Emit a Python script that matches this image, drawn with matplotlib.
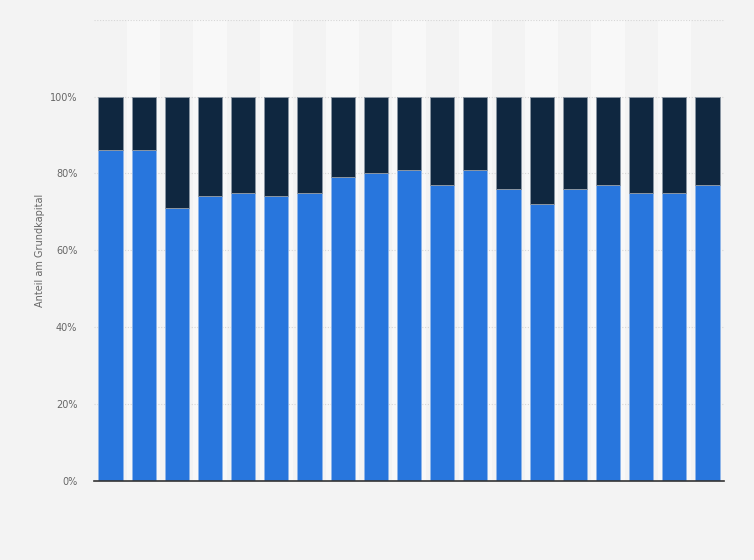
import matplotlib
matplotlib.use("Agg")
import matplotlib.pyplot as plt
import numpy as np

# share of the first group (blue), the rest (dark) fills up to 100 %
blue_share = [86, 86, 71, 74, 75, 74, 75, 79, 80, 81, 77, 81, 76, 72, 76, 77, 75, 75, 77]
dark_share = [100 - v for v in blue_share]
y_ticks = [0, 20, 40, 60, 80, 100]
y_labels = ["0%", "20%", "40%", "60%", "80%", "100%"]

BG = "#f3f3f3"
BAND = "#f8f8f8"
BLUE = "#2876dd"
DARK = "#0f2740"

fig = plt.figure(figsize=(7.54, 5.6), dpi=100, facecolor=BG)
ax = fig.add_axes([0.1247, 0.141, 0.8355, 0.824])
ax.set_facecolor(BG)

x = np.arange(len(blue_share))
# alternating column bands
for i in x:
    if i % 2 == 1:
        ax.axvspan(i - 0.5, i + 0.5, color=BAND, zorder=0, lw=0)

for yv in y_ticks[1:] + [120]:
    ax.axhline(yv, color="#d6d6d6", lw=0.8, ls=(0, (1, 1.5)), zorder=1)

ax.bar(x, blue_share, width=0.73, color=BLUE, edgecolor="#8fb6ea",
       linewidth=0.7, zorder=2)
ax.bar(x, dark_share, width=0.73, bottom=blue_share, color=DARK,
       edgecolor="#8a96a3", linewidth=0.7, zorder=2)

ax.set_xlim(-0.5, len(blue_share) - 0.5)
ax.set_ylim(0, 120)
ax.set_xticks([])
ax.set_yticks(y_ticks)
ax.set_yticklabels(y_labels, fontsize=7, color="#666666")
ax.tick_params(axis="y", length=0, pad=12)

for side in ["top", "right", "left"]:
    ax.spines[side].set_visible(False)
ax.spines["bottom"].set_color("#333333")
ax.spines["bottom"].set_linewidth(1.2)
ax.spines["bottom"].set_zorder(3)

ax.set_ylabel("Anteil am Grundkapital", fontsize=7, color="#666666")
ax.yaxis.set_label_coords(-0.078, 0.5)

fig.savefig("out.png", dpi=100, facecolor=BG)
